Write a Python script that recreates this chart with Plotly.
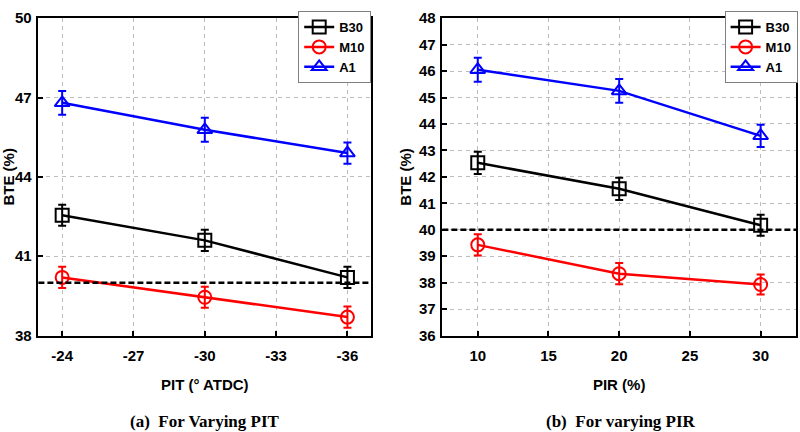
import plotly.graph_objects as go

# ---- data ----
pit = [-24, -30, -36]
pir = [10, 20, 30]
series = ["B30", "M10", "A1"]

bte_pit_b30 = [42.55, 41.6, 40.2]
bte_pit_m10 = [40.2, 39.45, 38.7]
bte_pit_a1 = [46.8, 45.78, 44.9]
err_pit_b30 = [0.4, 0.4, 0.4]
err_pit_m10 = [0.4, 0.4, 0.4]
err_pit_a1 = [0.45, 0.45, 0.4]

bte_pir_b30 = [42.53, 41.55, 40.17]
bte_pir_m10 = [39.43, 38.34, 37.93]
bte_pir_a1 = [46.05, 45.25, 43.55]
err_pir_b30 = [0.42, 0.42, 0.4]
err_pir_m10 = [0.4, 0.4, 0.38]
err_pir_a1 = [0.45, 0.45, 0.42]

ref_line = 40

pit_ticks = [-24, -27, -30, -33, -36]
pit_ticktext = ["-24", "-27", "-30", "-33", "-36"]
left_yticks = [38, 41, 44, 47, 50]
pir_ticks = [10, 15, 20, 25, 30]
right_yticks = [36, 37, 38, 39, 40, 41, 42, 43, 44, 45, 46, 47, 48]

colors = {"B30": "#000000", "M10": "#ff0000", "A1": "#0000ff"}
symbols = {"B30": "square-open", "M10": "circle-open", "A1": "triangle-up-open"}

FONT = "Liberation Sans Narrow, Liberation Sans, Arial"

fig = go.Figure()

left_data = {"B30": (bte_pit_b30, err_pit_b30), "M10": (bte_pit_m10, err_pit_m10), "A1": (bte_pit_a1, err_pit_a1)}
right_data = {"B30": (bte_pir_b30, err_pir_b30), "M10": (bte_pir_m10, err_pir_m10), "A1": (bte_pir_a1, err_pir_a1)}

def add_series(xv, data, xa, ya, lg):
    for name in series:
        y, e = data[name]
        fig.add_trace(go.Scatter(
            x=xv, y=y, name=name, mode="lines+markers",
            line=dict(color=colors[name], width=2.5),
            marker=dict(symbol=symbols[name], size=13, color=colors[name],
                        line=dict(width=2, color=colors[name])),
            error_y=dict(type="data", array=e, color=colors[name], thickness=2, width=4),
            xaxis=xa, yaxis=ya, legend=lg,
        ))

add_series(pit, left_data, "x", "y", "legend")
add_series(pir, right_data, "x2", "y2", "legend2")

tick_font = dict(family=FONT, size=15, color="black", weight="bold")
title_font = dict(family=FONT, size=15, color="black", weight="bold")

axis_common = dict(
    showline=True, linecolor="black", linewidth=1.5, mirror=True,
    ticks="inside", ticklen=5, tickwidth=1.5, tickcolor="black",
    showgrid=True, gridcolor="#bdbdbd", griddash="4px,4px", gridwidth=1,
    zeroline=False,
    tickfont=tick_font,
)

legend_common = dict(
    yanchor="top", y=0.995, xanchor="right", bgcolor="white",
    bordercolor="#808080", borderwidth=1,
    font=dict(family=FONT, size=13, color="black", weight="bold"),
    tracegroupgap=0, itemwidth=30,
)

fig.update_layout(
    width=800, height=432,
    margin=dict(l=0, r=0, t=0, b=0),
    paper_bgcolor="white", plot_bgcolor="white",
    xaxis=dict(domain=[0.048, 0.464], range=[-23, -37], tickvals=pit_ticks, ticktext=pit_ticktext,
               anchor="y", ticklabelstandoff=6,
               title=dict(text="PIT (° ATDC)", font=title_font, standoff=16),
               **axis_common),
    yaxis=dict(domain=[0.213, 0.978], range=[38, 50], tickvals=left_yticks, anchor="x",
               ticklabelstandoff=2,
               title=dict(text="BTE (%)", font=title_font, standoff=4),
               **axis_common),
    xaxis2=dict(domain=[0.553, 0.995], range=[7.5, 32.5], tickvals=pir_ticks, anchor="y2",
                ticklabelstandoff=6,
                title=dict(text="PIR (%)", font=title_font, standoff=16),
                **axis_common),
    yaxis2=dict(domain=[0.213, 0.978], range=[36, 48], tickvals=right_yticks, anchor="x2",
                ticklabelstandoff=2,
                title=dict(text="BTE (%)", font=title_font, standoff=4),
                **axis_common),
    legend=dict(x=0.464, **legend_common),
    legend2=dict(x=0.997, **legend_common),
    showlegend=True,
)

# reference dashed line at BTE = 40
fig.add_shape(type="line", xref="x domain", yref="y", x0=0, x1=1, y0=ref_line, y1=ref_line,
              line=dict(color="black", width=2.5, dash="6px,3px"))
fig.add_shape(type="line", xref="x2 domain", yref="y2", x0=0, x1=1, y0=ref_line, y1=ref_line,
              line=dict(color="black", width=2.5, dash="6px,3px"))

cap_font = dict(family="Liberation Serif, Times New Roman, serif", size=17, color="black", weight="bold")
fig.add_annotation(text="(a)  For Varying PIT", xref="paper", yref="paper", x=0.256, y=1 - 429 / 432,
                   showarrow=False, font=cap_font, xanchor="center", yanchor="middle")
fig.add_annotation(text="(b)  For varying PIR", xref="paper", yref="paper", x=0.776, y=1 - 429 / 432,
                   showarrow=False, font=cap_font, xanchor="center", yanchor="middle")

fig.write_html("out.html")
